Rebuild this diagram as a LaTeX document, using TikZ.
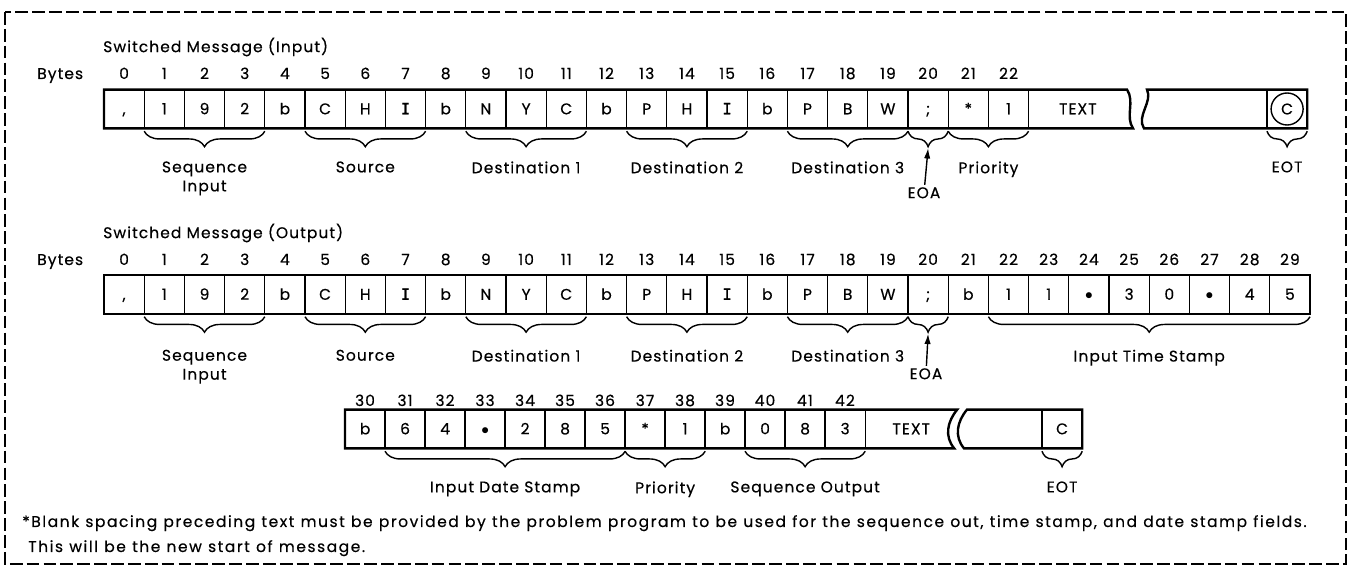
\documentclass[tikz,border=0pt]{standalone}
\usepackage{fontspec}
\setmainfont{Poppins}[LetterSpace=7,FakeBold=0.4]
\newfontfamily\notefont{Poppins}[LetterSpace=10,WordSpace=1.1,FakeBold=0.4]
\newfontfamily\barfont{DejaVu Sans Mono}[FakeBold=0.4]
\newcommand{\barI}{{\barfont I}}
\usetikzlibrary{positioning,arrows.meta,calc,decorations.pathreplacing}

\begin{document}
\begin{tikzpicture}[
  x=0.025cm,y=-0.025cm,
  every node/.style={font=\fontsize{11}{13.5}\selectfont,inner sep=0pt,align=center},
  cell/.style={draw=black,line width=0.9pt,minimum width=1.005cm,minimum height=0.97cm,
    text height=7.5pt,text depth=0pt,anchor=west,outer sep=0pt},
  num/.style={anchor=base},
  frame/.style={draw=black,line width=1.7pt},
  brc/.style={decorate,decoration={brace,mirror,amplitude=11pt,raise=2pt},line width=1pt},
  lab/.style={midway,below=#1},
  lab/.default=23pt,
  edge/.style={-{Latex[length=2.6mm,width=1.6mm]},line width=1pt,shorten <=1.5pt},
  note/.style={anchor=base west,font=\notefont\fontsize{11}{13.5}\selectfont},
  border/.style={draw=black,line width=1.8pt,dash pattern=on 9pt off 3pt}
 ]
  \useasboundingbox (0,0) rectangle (1351,570);
  \draw[border] (5,12) rectangle (1346,564);

  % input message
  \node[anchor=west] (ttlin) at (103,47) {Switched Message (Input)};
  \node[anchor=base west] (bytin) at (37,79) {Bytes};
  \foreach \c [count=\i from 0] in {{,},1,9,2,b,C,H,\barI,b,N,Y,C,b,P,H,\barI,b,P,B,W,;,*,1}{
    \node[cell] (in\i) at ({104+40.2*\i},109) {\c};
    \node[num] at ({124.1+40.2*\i},79) {\i};
  }
  \node[cell,draw=none,minimum width=2.46cm] (intxt) at (in22.east) {TEXT};
  \node[cell] (ineot) at (1267,109) {};
  \node[circle,draw,line width=1pt,minimum size=0.8cm] (incirc) at (ineot) {C};
  \draw[frame] (in0.north west) -- (intxt.north east)
    .. controls +(8,12) and +(-8,-12) .. ($(intxt.south east)+(6,0)$)
    -- (in0.south west) -- cycle;
  \draw[frame] (1144,128.4) .. controls +(-8,-12) and +(6,12) .. (1147,89.6)
    -- (ineot.north east) -- (ineot.south east) -- cycle;
  \draw[brc] (in1.south west) -- (in3.south east) node[lab] {Sequence\\Input};
  \draw[brc] (in5.south west) -- (in7.south east) node[lab] {Source};
  \draw[brc] (in9.south west) -- (in11.south east) node[lab] {Destination 1};
  \draw[brc] (in13.south west) -- (in15.south east) node[lab] {Destination 2};
  \draw[brc] (in17.south west) -- (in19.south east) node[lab] {Destination 3};
  \draw[brc] (in20.south west) -- (in20.south east);
  \draw[brc] (in21.south west) -- (in22.south east) node[lab] {Priority};
  \draw[brc] (ineot.south west) -- (ineot.south east) node[lab] {EOT};
  \node[anchor=north] (eoain) at (924,187) {EOA};
  \draw[edge] (eoain) -- ([yshift=-14pt]in20.south);

  % output message
  \node[anchor=west] (ttlout) at (103,233) {Switched Message (Output)};
  \node[anchor=base west] (bytout) at (37,265) {Bytes};
  \foreach \c [count=\i from 0] in {{,},1,9,2,b,C,H,\barI,b,N,Y,C,b,P,H,\barI,b,P,B,W,;,b,1,1,$\bullet$,3,0,$\bullet$,4,5}{
    \node[cell] (out\i) at ({104+40.2*\i},294.5) {\c};
    \node[num] at ({124.1+40.2*\i},265) {\i};
  }
  \draw[frame] (out0.north west) rectangle (out29.south east);
  \draw[brc] (out1.south west) -- (out3.south east) node[lab=25pt] {Sequence\\Input};
  \draw[brc] (out5.south west) -- (out7.south east) node[lab=25pt] {Source};
  \draw[brc] (out9.south west) -- (out11.south east) node[lab=25pt] {Destination 1};
  \draw[brc] (out13.south west) -- (out15.south east) node[lab=25pt] {Destination 2};
  \draw[brc] (out17.south west) -- (out19.south east) node[lab=25pt] {Destination 3};
  \draw[brc] (out20.south west) -- (out20.south east);
  \draw[brc] (out22.south west) -- (out29.south east) node[lab=25pt] {Input Time Stamp};
  \node[anchor=north] (eoaout) at (926,368) {EOA};
  \draw[edge] (eoaout) -- ([yshift=-14pt]out20.south);

  % stamps and trailer of the output message
  \foreach \c [count=\i from 30] in {b,6,4,$\bullet$,2,8,5,*,1,b,0,8,3}{
    \node[cell] (dt\i) at ({345+40*(\i-30)},429) {\c};
    \node[num] at ({365+40*(\i-30)},406) {\i};
  }
  \node[cell,draw=none,minimum width=2.3cm] (dttxt) at (dt42.east) {TEXT};
  \node[cell] (dteot) at (1042,429) {C};
  \draw[frame] (dt30.north west) -- (dttxt.north east)
    .. controls +(-10,12) and +(-10,-12) .. ($(dttxt.south east)+(-3,0)$)
    -- (dt30.south west) -- cycle;
  \draw[frame] (964,448.4) .. controls +(-10,-12) and +(-10,12) .. (967,409.6)
    -- (dteot.north east) -- (dteot.south east) -- cycle;
  \draw[brc] (dt31.south west) -- (dt36.south east) node[lab] {Input Date Stamp};
  \draw[brc] (dt37.south west) -- (dt38.south east) node[lab] {Priority};
  \draw[brc] (dt40.south west) -- (dt42.south east) node[lab] {Sequence Output};
  \draw[brc] (dteot.south west) -- (dteot.south east) node[lab] {EOT};

  % footnote
  \node[note] (note1) at (22,527) {*Blank spacing preceding text must be provided by the problem program to be used for the sequence out, time stamp, and date stamp fields.};
  \node[note] (note2) at (28,552) {This will be the new start of message.};
\end{tikzpicture}
\end{document}
